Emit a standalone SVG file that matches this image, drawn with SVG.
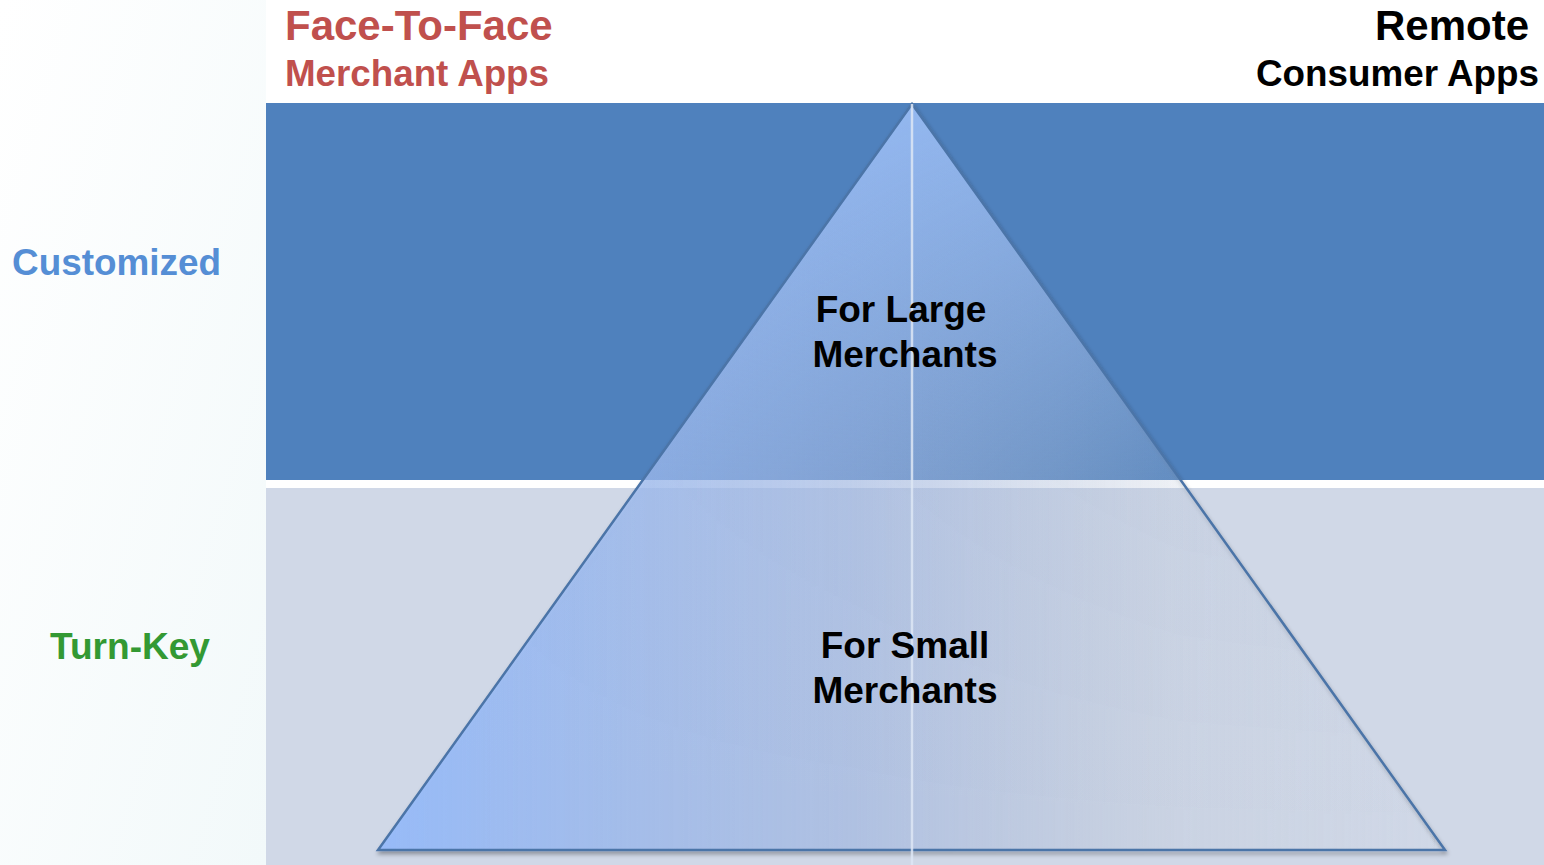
<svg xmlns="http://www.w3.org/2000/svg" width="1544" height="865" viewBox="0 0 1544 865">
<defs>
<linearGradient id="leftBg" x1="0" y1="0" x2="1" y2="1">
<stop offset="0" stop-color="#ffffff"/>
<stop offset="1" stop-color="#f2f9fa"/>
</linearGradient>
<linearGradient id="triH" x1="378" y1="0" x2="1445" y2="0" gradientUnits="userSpaceOnUse">
<stop offset="0" stop-color="#96bbfa" stop-opacity="0.95"/>
<stop offset="0.45" stop-color="#a8c0ee" stop-opacity="0.55"/>
<stop offset="0.75" stop-color="#c6d3ea" stop-opacity="0.15"/>
<stop offset="1" stop-color="#d0d8e8" stop-opacity="0"/>
</linearGradient>
<linearGradient id="triV" x1="0" y1="104" x2="0" y2="850" gradientUnits="userSpaceOnUse">
<stop offset="0" stop-color="#9ac0fb" stop-opacity="0.75"/>
<stop offset="0.5" stop-color="#9ac0fb" stop-opacity="0.02"/>
<stop offset="1" stop-color="#9ac0fb" stop-opacity="0"/>
</linearGradient>
<filter id="shadow" x="-5%" y="-5%" width="110%" height="110%">
<feGaussianBlur in="SourceAlpha" stdDeviation="2"/>
<feOffset dx="1" dy="3"/>
<feComponentTransfer><feFuncA type="linear" slope="0.35"/></feComponentTransfer>
<feMerge><feMergeNode/><feMergeNode in="SourceGraphic"/></feMerge>
</filter>
<style>
.lbl{font-family:"Liberation Sans",Arial,sans-serif;font-weight:bold;}
.big{font-size:42px;}
.mid{font-size:36px;}
.tri{font-size:37px;fill:#000;text-anchor:middle;}
</style>
</defs>
<rect x="0" y="0" width="1544" height="865" fill="#ffffff"/>
<rect x="0" y="0" width="266" height="865" fill="url(#leftBg)"/>
<g id="band-customized">
<rect x="266" y="103" width="1278" height="377" fill="#4f81bd"/>
</g>
<g id="band-turnkey">
<rect x="266" y="488" width="1278" height="377" fill="#d0d8e7"/>
</g>
<g id="pyramid" filter="url(#shadow)">
<polygon points="912,104 378,850 1445,850" fill="url(#triH)"/>
<polygon points="912,104 378,850 1445,850" fill="url(#triV)" stroke="#4c74a8" stroke-width="2.5" stroke-linejoin="miter"/>
</g>
<g id="connectors">
<line x1="912" y1="104" x2="912" y2="865" stroke="#dde6f4" stroke-width="2.5" stroke-opacity="0.85"/>
</g>
<g id="header-left">
<text class="lbl big" x="285" y="40" fill="#c0504d">Face-To-Face</text>
<text class="lbl mid" x="285" y="86" fill="#c0504d" textLength="264" lengthAdjust="spacingAndGlyphs">Merchant Apps</text>
</g>
<g id="header-right">
<text class="lbl big" x="1529" y="40" fill="#000" text-anchor="end">Remote</text>
<text class="lbl mid" x="1256" y="86" fill="#000" textLength="283" lengthAdjust="spacingAndGlyphs">Consumer Apps</text>
</g>
<g id="row-customized">
<text class="lbl mid" x="12" y="275" fill="#558ed5" textLength="209" lengthAdjust="spacingAndGlyphs">Customized</text>
</g>
<g id="row-turnkey">
<text class="lbl mid" x="50" y="659" fill="#339933" textLength="160" lengthAdjust="spacingAndGlyphs">Turn-Key</text>
</g>
<g id="node-large">
<text class="lbl tri" x="901" y="322">For Large</text>
<text class="lbl tri" x="905" y="367">Merchants</text>
</g>
<g id="node-small">
<text class="lbl tri" x="905" y="658">For Small</text>
<text class="lbl tri" x="905" y="703">Merchants</text>
</g>
</svg>
